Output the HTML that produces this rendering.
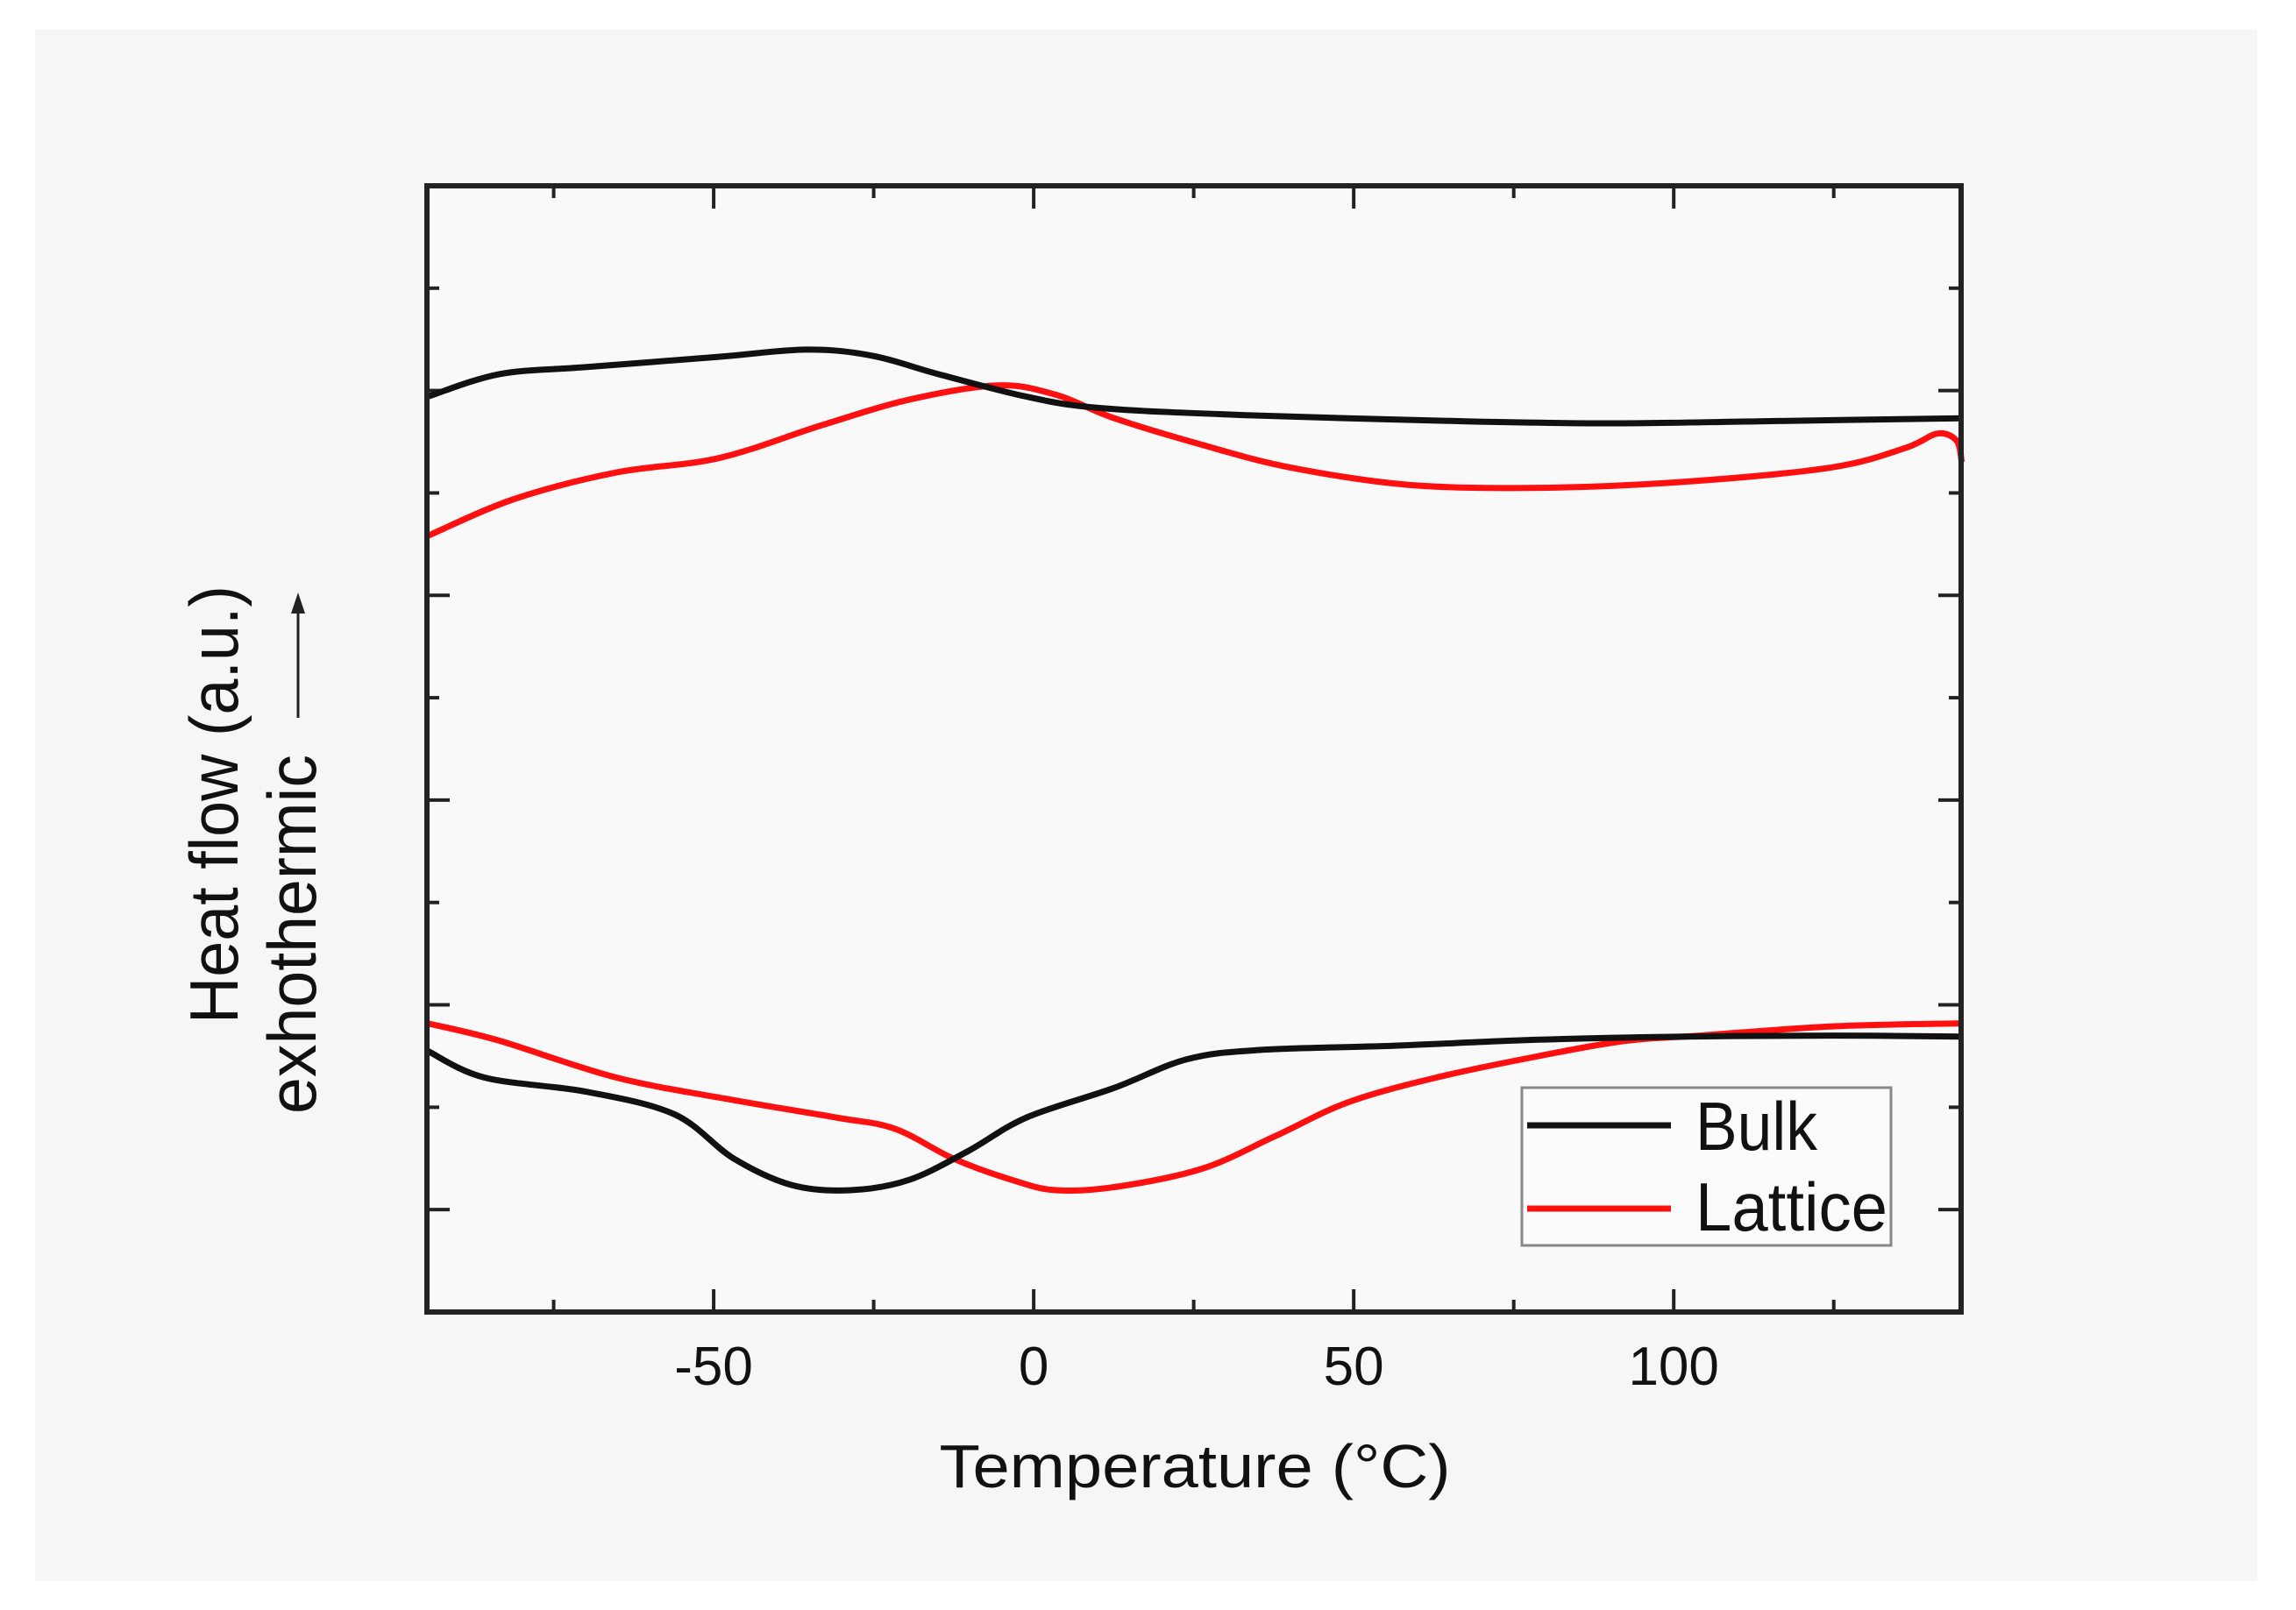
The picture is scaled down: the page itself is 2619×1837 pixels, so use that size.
<!DOCTYPE html>
<html><head><meta charset="utf-8"><style>
html,body{margin:0;padding:0;background:#fff;}
svg{display:block;}
text{font-family:"Liberation Sans",Arial,sans-serif;fill:#111;}
</style></head><body>
<svg id="chart" width="2619" height="1837" viewBox="0 0 2619 1837" xmlns="http://www.w3.org/2000/svg">
<rect x="0" y="0" width="2619" height="1837" fill="#ffffff"/>
<rect x="40" y="34" width="2535" height="1770" fill="#f6f6f6"/>
<rect x="487" y="212" width="1750" height="1285" fill="#f9f9f9"/>
<g id="ticks"></g>
<g id="series"></g>
<rect x="487" y="212" width="1750" height="1285" fill="none" stroke="#222" stroke-width="6"/>
<g id="xlabels"></g>
<text x="1363" y="1697" font-size="70" text-anchor="middle" textLength="583" lengthAdjust="spacingAndGlyphs">Temperature (°C)</text>
<text transform="translate(271,918) rotate(-90)" font-size="78" text-anchor="middle" textLength="500" lengthAdjust="spacingAndGlyphs">Heat flow (a.u.)</text>
<text transform="translate(360,1066) rotate(-90)" font-size="78" text-anchor="middle" textLength="410" lengthAdjust="spacingAndGlyphs">exhothermic</text>
<line x1="340" y1="819" x2="340" y2="695" stroke="#222" stroke-width="3"/>
<polygon points="340,676 332,700 348,700" fill="#222"/>
<g>
<rect x="1736" y="1241" width="421" height="180" fill="#fbfbfb" stroke="#888" stroke-width="3"/>
<line x1="1742" y1="1284" x2="1906" y2="1284" stroke="#111" stroke-width="7"/>
<text x="1934" y="1312" font-size="78" textLength="139" lengthAdjust="spacingAndGlyphs">Bulk</text>
<line x1="1742" y1="1379" x2="1906" y2="1379" stroke="#ff1010" stroke-width="7"/>
<text x="1934" y="1404" font-size="78" textLength="219" lengthAdjust="spacingAndGlyphs">Lattice</text>
</g>
</svg>
<script>
const bulkCoolT = [-94.7,-83.5,-69.8,-49.2,-35.5,-25.2,-14.9,-1.1,10.3,33.2,67.5,90.4,113.3,145];
const bulkCoolV = [8.94,9.16,9.23,9.33,9.40,9.34,9.16,8.94,8.83,8.76,8.70,8.68,8.70,8.73];
const latCoolT = [-94.7,-81.2,-65.2,-49.2,-33.2,-19.5,-5.7,3.4,12.6,26.3,40.0,58.4,78.9,101.8,124.7,136.2,141.2,144.2,145];
const latCoolV = [7.58,7.94,8.20,8.34,8.66,8.91,9.05,8.96,8.73,8.47,8.25,8.08,8.05,8.11,8.25,8.44,8.58,8.51,8.30];
const bulkHeatT = [-94.7,-85.8,-69.8,-56.1,-46.9,-37.8,-28.6,-19.5,-10.3,-1.1,12.6,24.0,35.5,56.1,78.9,101.8,124.7,145];
const bulkHeatV = [2.55,2.29,2.15,1.93,1.50,1.24,1.19,1.29,1.57,1.90,2.19,2.47,2.56,2.60,2.66,2.69,2.70,2.69];
const latHeatT = [-94.7,-83.5,-65.2,-46.9,-30.9,-21.7,-12.6,-3.4,3.4,12.6,26.3,37.8,49.2,62.9,78.9,92.7,104.1,124.7,145];
const latHeatV = [2.82,2.65,2.29,2.07,1.90,1.79,1.50,1.29,1.19,1.22,1.40,1.72,2.05,2.29,2.50,2.65,2.70,2.79,2.82];
const xTickValues = [-50,0,50,100];
const xTickLabels = ["-50","0","50","100"];
const xMinorTicks = [-75,-25,25,75,125];
const yTicks = [1,2,3,4,5,6,7,8,9,10];

const NS = "http://www.w3.org/2000/svg";
const X0 = 487, X1 = 2237, Y0 = 1497, Y1 = 212;
const tMin = -94.8, tMax = 144.9, vMin = 0, vMax = 11;
function xs(t){ return X0 + (t - tMin) / (tMax - tMin) * (X1 - X0); }
function ys(v){ return Y0 - (v - vMin) / (vMax - vMin) * (Y0 - Y1); }

function pathFrom(T, V){
  const p = T.map((t,i)=>[xs(t), ys(V[i])]);
  let d = "M" + p[0][0].toFixed(1) + "," + p[0][1].toFixed(1);
  for (let i=0;i<p.length-1;i++){
    const a = p[Math.max(i-1,0)], b = p[i], c = p[i+1], e = p[Math.min(i+2,p.length-1)];
    const c1 = [b[0]+(c[0]-a[0])/6, b[1]+(c[1]-a[1])/6];
    const c2 = [c[0]-(e[0]-b[0])/6, c[1]-(e[1]-b[1])/6];
    d += " C"+c1[0].toFixed(1)+","+c1[1].toFixed(1)+" "+c2[0].toFixed(1)+","+c2[1].toFixed(1)+" "+c[0].toFixed(1)+","+c[1].toFixed(1);
  }
  return d;
}

const sg = document.getElementById("series");
function addSeries(T, V, color, name, w){
  const el = document.createElementNS(NS, "path");
  el.setAttribute("d", pathFrom(T, V));
  el.setAttribute("fill", "none");
  el.setAttribute("stroke", color);
  el.setAttribute("stroke-width", w);
  el.setAttribute("stroke-linejoin", "round");
  
  
  sg.appendChild(el);
}
addSeries(latCoolT, latCoolV, "#ff1010", "lattice-cooling-line", 7);
addSeries(latHeatT, latHeatV, "#ff1010", "lattice-heating-line", 7);
addSeries(bulkCoolT, bulkCoolV, "#111", "bulk-cooling-line", 7);
addSeries(bulkHeatT, bulkHeatV, "#111", "bulk-heating-line", 7);

const tg = document.getElementById("ticks");
function tick(x1,y1,x2,y2){
  const l = document.createElementNS(NS, "line");
  l.setAttribute("x1",x1); l.setAttribute("y1",y1); l.setAttribute("x2",x2); l.setAttribute("y2",y2);
  l.setAttribute("stroke","#222"); l.setAttribute("stroke-width","4");
  
  
  tg.appendChild(l);
}
xTickValues.forEach(v=>{ const x=xs(v); tick(x,Y0,x,Y0-26); tick(x,Y1,x,Y1+26); });
xMinorTicks.forEach(v=>{ const x=xs(v); tick(x,Y0,x,Y0-14); tick(x,Y1,x,Y1+14); });
yTicks.forEach((v,i)=>{ const y=ys(v); const L = (i%2===0)?26:14; tick(X0,y,X0+L,y); tick(X1,y,X1-L,y); });

const xl = document.getElementById("xlabels");
xTickValues.forEach((v,i)=>{
  const t = document.createElementNS(NS, "text");
  t.setAttribute("x", xs(v));
  t.setAttribute("y", 1580);
  t.setAttribute("font-size", "62");
  t.setAttribute("text-anchor", "middle");
  t.textContent = xTickLabels[i];
  
  
  xl.appendChild(t);
});
</script>
</body></html>
